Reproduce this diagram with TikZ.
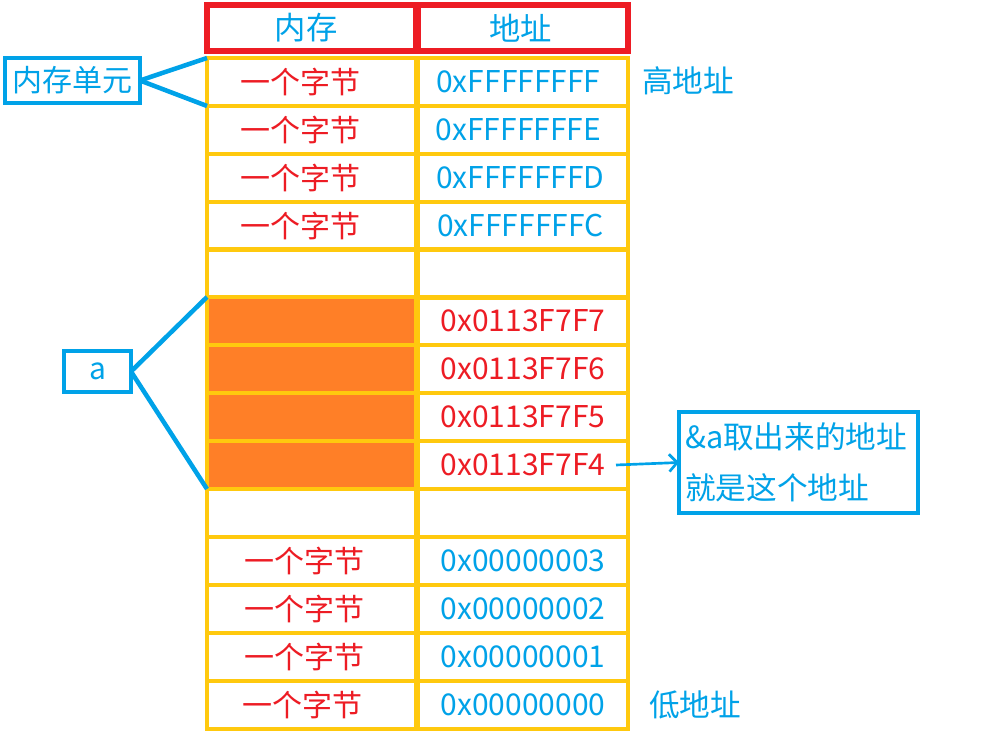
\documentclass[tikz,border=0pt]{standalone}
\usepackage{fontspec}
\setmainfont{Noto Sans CJK SC}
\usetikzlibrary{arrows.meta}
\definecolor{pblue}{HTML}{00A2E8}
\definecolor{pred}{HTML}{ED1C24}
\definecolor{pyel}{HTML}{FFC90E}
\definecolor{porange}{HTML}{FF7F27}
\begin{document}
\begin{tikzpicture}[x=0.75pt,y=-0.75pt,
  every node/.style={font=\fontsize{22.5pt}{27pt}\selectfont, inner sep=0pt, outer sep=0pt},
  cellL/.style={draw=pyel, line width=3.6pt, minimum width=156.75pt, minimum height=36pt, text=pred},
  cellR/.style={draw=pyel, line width=3.6pt, minimum width=157.5pt, minimum height=36pt, text=pblue},
  redtxt/.style={text=pred},
  hdr/.style={draw=pred, line width=3.8pt, minimum height=34.5pt, text=pblue, font=\fontsize{23.5pt}{28pt}\selectfont},
  bluebox/.style={draw=pblue, line width=3pt, text=pblue},
  bline/.style={draw=pblue, line width=3.4pt},
  note/.style={text=pblue, font=\fontsize{23pt}{28pt}\selectfont},
  filled/.style={fill=porange}]
\useasboundingbox (0,0) rectangle (994,737);
\fill[white] (0,0) rectangle (994,737);
% header
\node[hdr, minimum width=156.75pt] (HL) at (311.5,28) {\hspace*{-8pt}内存};
\node[hdr, minimum width=157.5pt] (HR) at (523,28) {\hspace*{-4pt}地址};
% rows
\node[cellL] (L1) at (311.5,82) {\hspace*{-16pt}一个字节};
\node[cellR] (R1) at (523,82) {\hspace*{-7pt}0xFFFFFFFF};
\node[cellL] (L2) at (311.5,130) {\hspace*{-16pt}一个字节};
\node[cellR] (R2) at (523,130) {\hspace*{-7pt}0xFFFFFFFE};
\node[cellL] (L3) at (311.5,178) {\hspace*{-16pt}一个字节};
\node[cellR] (R3) at (523,178) {\hspace*{-4pt}0xFFFFFFFD};
\node[cellL] (L4) at (311.5,226) {\hspace*{-16pt}一个字节};
\node[cellR] (R4) at (523,226) {\hspace*{-4pt}0xFFFFFFFC};
\node[cellL] (L5) at (311.5,273.5) {};
\node[cellR] (R5) at (523,273.5) {};
\node[cellL, filled] (L6) at (311.5,321) {};
\node[cellR, redtxt] (R6) at (523,321) {0x0113F7F7};
\node[cellL, filled] (L7) at (311.5,369) {};
\node[cellR, redtxt] (R7) at (523,369) {0x0113F7F6};
\node[cellL, filled] (L8) at (311.5,417) {};
\node[cellR, redtxt] (R8) at (523,417) {0x0113F7F5};
\node[cellL, filled] (L9) at (311.5,465) {};
\node[cellR, redtxt] (R9) at (523,465) {0x0113F7F4};
\node[cellL] (L10) at (311.5,513) {};
\node[cellR] (R10) at (523,513) {};
\node[cellL] (L11) at (311.5,561) {\hspace*{-10pt}一个字节};
\node[cellR] (R11) at (523,561) {0x00000003};
\node[cellL] (L12) at (311.5,609) {\hspace*{-10pt}一个字节};
\node[cellR] (R12) at (523,609) {0x00000002};
\node[cellL] (L13) at (311.5,657) {\hspace*{-10pt}一个字节};
\node[cellR] (R13) at (523,657) {0x00000001};
\node[cellL] (L14) at (311.5,705) {\hspace*{-14pt}一个字节};
\node[cellR] (R14) at (523,705) {0x00000000};
% side labels
\node[note] (hi) at (688,81) {高地址};
\node[note] (lo) at (695,705) {低地址};
% memory unit box
\node[bluebox, minimum width=101.25pt, minimum height=33.75pt] (mu) at (72.5,80.5) {内存单元};
\draw[bline] (mu.east) -- (L1.north west);
\draw[bline] (mu.east) -- (L1.south west);
% variable a
\node[bluebox, line width=2.6pt, minimum width=50.25pt, minimum height=30.75pt] (va) at (97.5,371.5) {a};
\draw[bline] (va.east) -- (L6.north west);
\draw[bline] (va.east) -- (L9.south west);
% callout
\node[bluebox, line width=2.4pt, minimum width=179.25pt, minimum height=75.75pt,
      text width=170pt, align=left, font=\fontsize{23pt}{38pt}\selectfont] (cb) at (798.5,462.5)
      {\&a取出来的地址\\就是这个地址};
\draw[draw=pblue, line width=2pt, -{Straight Barb[length=6pt,width=13pt,line width=2pt]}]
  ([xshift=-9pt]R9.east) -- (cb.west);
\end{tikzpicture}
\end{document}
